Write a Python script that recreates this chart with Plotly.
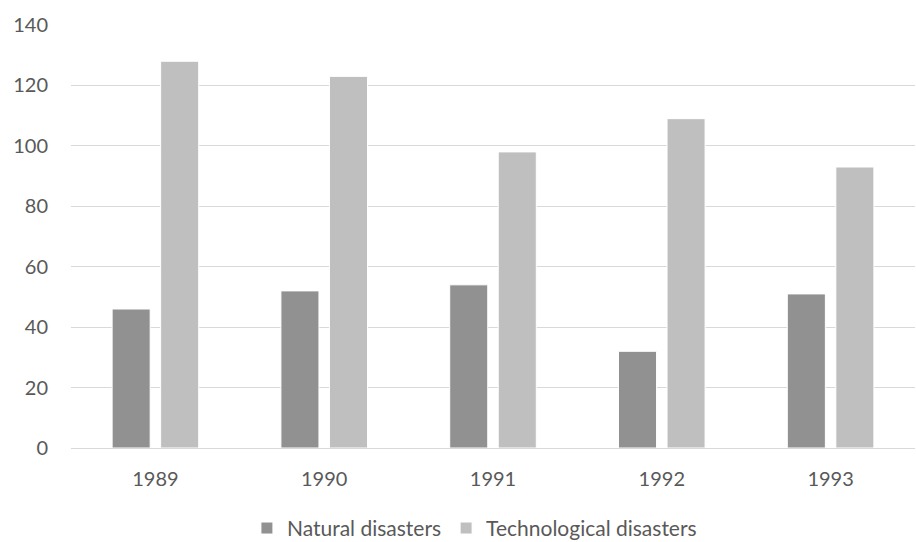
import plotly.graph_objects as go

years = ["1989", "1990", "1991", "1992", "1993"]
natural = [46, 52, 54, 32, 51]
technological = [128, 123, 98, 109, 93]
y_ticks = [0, 20, 40, 60, 80, 100, 120, 140]

text_color = "#595959"
grid_color = "#d9d9d9"
font_family = "Lato, 'Open Sans', sans-serif"

fig = go.Figure()
fig.add_trace(go.Bar(
    x=years, y=natural, name="Natural disasters",
    marker=dict(color="#919191", line=dict(color="#ffffff", width=1)),
))
fig.add_trace(go.Bar(
    x=years, y=technological, name="Technological disasters",
    marker=dict(color="#bfbfbf", line=dict(color="#ffffff", width=1)),
))

fig.update_layout(
    width=916, height=542,
    margin=dict(l=71, r=1, t=25, b=94, autoexpand=False),
    paper_bgcolor="white", plot_bgcolor="white",
    barmode="group", bargap=0.425, bargroupgap=0.216,
    font=dict(family=font_family, color=text_color, size=20),
    showlegend=True,
    legend=dict(
        orientation="h", x=0.478, xanchor="center", y=-0.19, yanchor="middle",
        font=dict(size=21, color=text_color), itemwidth=30,
        traceorder="normal", bgcolor="rgba(0,0,0,0)",
    ),
    xaxis=dict(
        type="category", showgrid=False, showline=True, linecolor=grid_color,
        linewidth=1, ticks="", tickfont=dict(size=20, color=text_color),
        ticklabelstandoff=13, fixedrange=True,
    ),
    yaxis=dict(
        range=[0, 140], tickvals=y_ticks, showgrid=True, gridcolor=grid_color,
        gridwidth=1, zeroline=True, zerolinecolor=grid_color, zerolinewidth=1,
        showline=False, ticks="", tickfont=dict(size=20, color=text_color),
        ticklabelstandoff=22, fixedrange=True,
    ),
)

fig.write_html("out.html")
